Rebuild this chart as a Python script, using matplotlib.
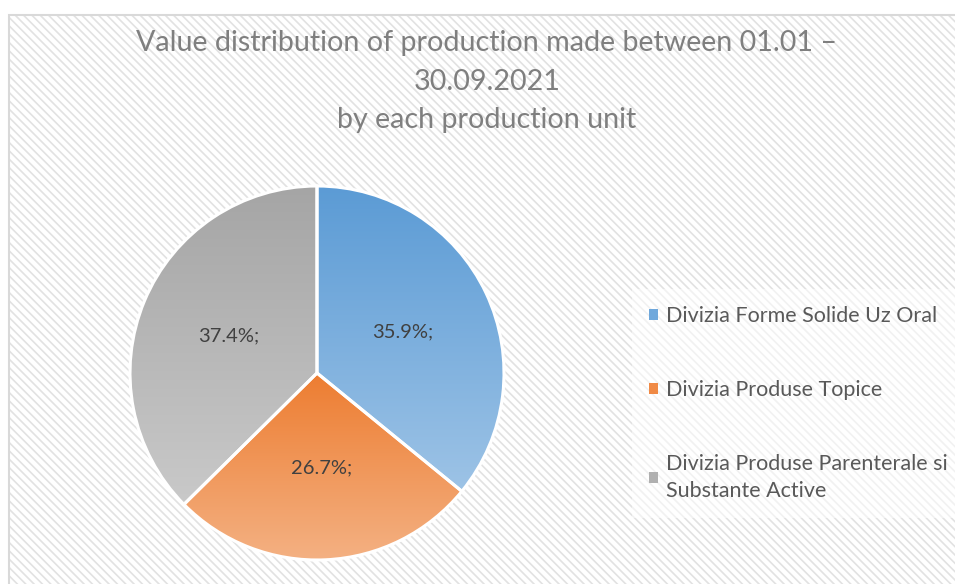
import numpy as np
import matplotlib
matplotlib.use("Agg")
import matplotlib.pyplot as plt
from matplotlib.patches import Rectangle
from matplotlib.colors import LinearSegmentedColormap

plt.rcParams['font.family'] = ['Lato', 'DejaVu Sans']
plt.rcParams['hatch.linewidth'] = 1.2

title = "Value distribution of production made between 01.01 –\n30.09.2021\nby each production unit"
categories = ["Divizia Forme Solide Uz Oral", "Divizia Produse Topice",
              "Divizia Produse Parenterale si\nSubstante Active"]
values = [35.9, 26.7, 37.4]
label_texts = ["35.9%;", "26.7%;", "37.4%;"]
top_colors = ["#5B9BD5", "#ED7D31", "#A5A5A5"]
bottom_colors = ["#9DC3E6", "#F4B183", "#C9C9C9"]
legend_colors = ["#6FA8DC", "#F08A46", "#B0B0B0"]

W, H = 955, 584
fig = plt.figure(figsize=(W / 100, H / 100), dpi=100)
fig.patch.set_facecolor("white")

# hatched chart-area background
bg = Rectangle((9 / W, -0.05), 1.1, (H - 15) / H + 0.05, transform=fig.transFigure,
               facecolor="white", edgecolor="#E2E2E2", hatch="\\\\\\\\", linewidth=0,
               zorder=-2)
fig.patches.append(bg)
border = Rectangle((9 / W, -0.05), 1.1, (H - 15) / H + 0.05, transform=fig.transFigure,
                   facecolor="none", edgecolor="#D9D9D9", linewidth=1.5, zorder=-1)
fig.patches.append(border)

fig.text(487 / W, 1 - 30 / H, title, ha="center", va="top", fontsize=20.6,
         color="#7F7F7F", linespacing=1.6)

ax = fig.add_axes([130 / W, 24 / H, 374 / W, 374 / H])
ax.set_zorder(1)
ax.set_xlim(-1, 1)
ax.set_ylim(-1, 1)
ax.set_aspect("equal")
ax.axis("off")

wedges, _ = ax.pie(values, startangle=90, counterclock=False, radius=1.0,
                   colors=legend_colors,
                   wedgeprops=dict(edgecolor="white", linewidth=2.2))

for w, tc, bc in zip(wedges, top_colors, bottom_colors):
    verts = w.get_path().vertices
    ymin, ymax = verts[:, 1].min(), verts[:, 1].max()
    xmin, xmax = verts[:, 0].min(), verts[:, 0].max()
    cmap = LinearSegmentedColormap.from_list("g", [bc, tc])
    grad = np.linspace(0, 1, 256).reshape(-1, 1)
    im = ax.imshow(grad, extent=(xmin, xmax, ymin, ymax), origin="lower",
                   cmap=cmap, aspect="auto", zorder=1)
    im.set_clip_path(w)
    w.set_facecolor("none")
    w.set_zorder(2)

ax.set_xlim(-1, 1)
ax.set_ylim(-1, 1)

# data labels
cum = np.cumsum([0] + values[:-1])
for v, c, t in zip(values, cum, label_texts):
    ang = np.deg2rad(90 - (c + v / 2) / sum(values) * 360)
    r = 0.51
    ax.text(r * np.cos(ang), r * np.sin(ang), t, ha="center", va="center",
            fontsize=14.5, color="#404040", zorder=3)

leg = fig.legend(wedges, categories, loc="upper left",
                 bbox_to_anchor=(632 / W, 1 - 289 / H), borderaxespad=0,
                 frameon=True, fontsize=15.5, labelcolor="#595959",
                 handlelength=0.4, handleheight=0.4, handletextpad=0.4,
                 labelspacing=2.5, borderpad=0.8, fancybox=False)
leg.get_frame().set_facecolor("white")
leg.get_frame().set_edgecolor("none")
leg.get_frame().set_alpha(0.55)
for h, c in zip(leg.legend_handles, legend_colors):
    h.set_facecolor(c)
    h.set_edgecolor("none")
    h.set_hatch(None)
for t in leg.get_texts():
    t.set_linespacing(1.45)

fig.savefig("out.png", dpi=100)
